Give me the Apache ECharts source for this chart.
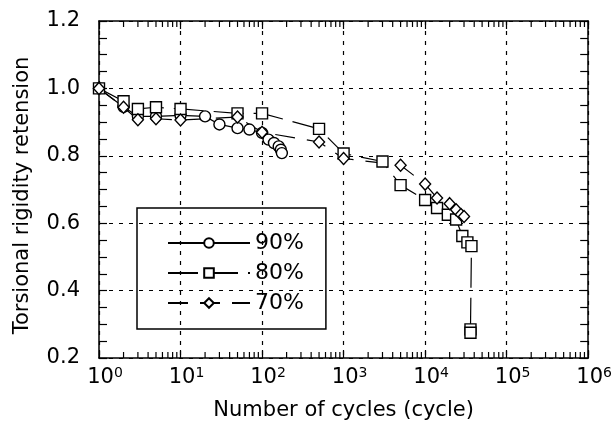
<!DOCTYPE html>
<html><head><meta charset="utf-8">
<script src="https://cdn.jsdelivr.net/npm/echarts@6/dist/echarts.min.js"></script>
<style>html,body{margin:0;padding:0;background:#fff}#c{width:615px;height:426px}</style>
</head><body><div id="c"></div>
<script>
const cycles90 = [1,2,3,5,10,20,30,50,70,100,120,140,160,170,175];
const retention90 = [1.0,0.945,0.917,0.917,0.92,0.917,0.893,0.882,0.878,0.868,0.848,0.838,0.828,0.818,0.808];
const cycles80 = [1,2,3,5,10,50,100,500,1000,3000,5000,10000,14000,19000,24000,28600,33000,37000,36000,36000];
const retention80 = [1.0,0.962,0.939,0.944,0.939,0.926,0.926,0.88,0.807,0.783,0.713,0.669,0.645,0.625,0.611,0.562,0.543,0.532,0.285,0.275];
const cycles70 = [1,2,3,5,10,50,100,500,1000,5000,10000,14000,20000,24000,27500,30000];
const retention70 = [1.0,0.944,0.907,0.91,0.906,0.915,0.87,0.841,0.792,0.772,0.716,0.675,0.658,0.64,0.626,0.62];
const seriesNames = ['90%','80%','70%'];
const yTickLabels = ['0.2','0.4','0.6','0.8','1.0','1.2'];
const xTickExponents = ['0','1','2','3','4','5','6'];
const minorMultipliers = [2,3,4,5,6,7,8,9];

const FONT = 'DejaVu Sans';
const Y_MIN = 0.2, Y_MAX = 1.2;
const pairs = (xs, ys) => xs.map((x, i) => [x, ys[i]]);
const minorBottom = [], minorTop = [];
for (let d = 0; d < 6; d++) minorMultipliers.forEach(m => {
  minorBottom.push([m * Math.pow(10, d), Y_MIN]);
  minorTop.push([m * Math.pow(10, d), Y_MAX]);
});

const tickCommon = {
  axisLine: {show: true, lineStyle: {color: '#000', width: 1.5}},
  axisTick: {show: true, inside: true, length: 8, lineStyle: {color: '#000', width: 1.2}},
};
const minorTickSeries = (data, offset) => ({
  type: 'line', data: data, symbol: 'rect', symbolSize: [1.2, 6], symbolOffset: [0, offset],
  showSymbol: true, showAllSymbol: true,
  lineStyle: {width: 0, opacity: 0},
  itemStyle: {color: '#000', borderWidth: 0}, silent: true, clip: false, z: 5
});

const chart = echarts.init(document.getElementById('c'), null, {renderer: 'canvas'});
const symStyle = {color: '#fff', borderColor: '#000', borderWidth: 1.4};
chart.setOption({
  animation: false,
  backgroundColor: '#fff',
  textStyle: {fontFamily: FONT},
  grid: {left: 99, right: 21, top: 21, bottom: 65, containLabel: false},
  xAxis: [{
    type: 'log', logBase: 10, min: 1, max: 1e6, splitNumber: 6, position: 'bottom',
    ...tickCommon,
    splitLine: {show: true, lineStyle: {color: '#000', type: [4, 6], width: 1.2}},
    axisLabel: {
      margin: 8, color: '#000',
      formatter: v => {
        const e = xTickExponents[Math.round(Math.log10(v))];
        return '{b|10}{s|' + e + '}';
      },
      rich: {
        b: {fontSize: 21, fontFamily: FONT, color: '#000', padding: [0, 0, 0, 12], verticalAlign: 'bottom'},
        s: {fontSize: 14, fontFamily: FONT, color: '#000', verticalAlign: 'top', padding: [0, 0, 8, 0]}
      }
    },
    name: 'Number of cycles (cycle)', nameLocation: 'middle', nameGap: 42,
    nameTextStyle: {fontSize: 21, fontFamily: FONT, color: '#000'}
  }, {
    type: 'log', logBase: 10, min: 1, max: 1e6, splitNumber: 6, position: 'top',
    ...tickCommon,
    splitLine: {show: false}, axisLabel: {show: false}
  }],
  yAxis: [{
    type: 'value', min: Y_MIN, max: Y_MAX, interval: 0.2, position: 'left',
    ...tickCommon,
    minorTick: {show: true, splitNumber: 4, length: 8, lineStyle: {color: '#000', width: 1.2}},
    splitLine: {show: true, lineStyle: {color: '#000', type: [4, 6], width: 1.2}},
    axisLabel: {
      margin: 19, color: '#000', fontSize: 21, fontFamily: FONT,
      formatter: v => yTickLabels[Math.round((v - 0.2) / 0.2)]
    },
    name: 'Torsional rigidity retension', nameLocation: 'middle', nameGap: 66,
    nameTextStyle: {fontSize: 21, fontFamily: FONT, color: '#000', padding: [0, 12, 0, 0]}
  }, {
    type: 'value', min: Y_MIN, max: Y_MAX, interval: 0.2, position: 'right',
    ...tickCommon,
    minorTick: {show: true, splitNumber: 4, length: 8, lineStyle: {color: '#000', width: 1.2}},
    splitLine: {show: false}, axisLabel: {show: false}
  }],
  legend: {
    orient: 'vertical', left: 137, top: 208,
    padding: [24, 22, 15, 30],
    borderColor: '#000', borderWidth: 1.5,
    itemWidth: 82, itemHeight: 12, itemGap: 8, itemTextGap: 11,
    textStyle: {fontSize: 22, fontFamily: FONT, color: '#000'},
    data: seriesNames
  },
  series: [
    {name: seriesNames[0], type: 'line', data: pairs(cycles90, retention90),
     symbol: 'circle', symbolSize: 11, itemStyle: symStyle,
     lineStyle: {color: '#000', width: 1.2, type: 'solid'}},
    {name: seriesNames[1], type: 'line', data: pairs(cycles80, retention80),
     symbol: 'rect', symbolSize: 11, itemStyle: symStyle,
     lineStyle: {color: '#000', width: 1.2, type: [30, 10]}},
    {name: seriesNames[2], type: 'line', data: pairs(cycles70, retention70),
     symbol: 'diamond', symbolSize: [11, 12], itemStyle: symStyle,
     lineStyle: {color: '#000', width: 1.2, type: [20, 12]}},
    minorTickSeries(minorBottom, -3),
    minorTickSeries(minorTop, 3)
  ]
});
</script>
</body></html>
